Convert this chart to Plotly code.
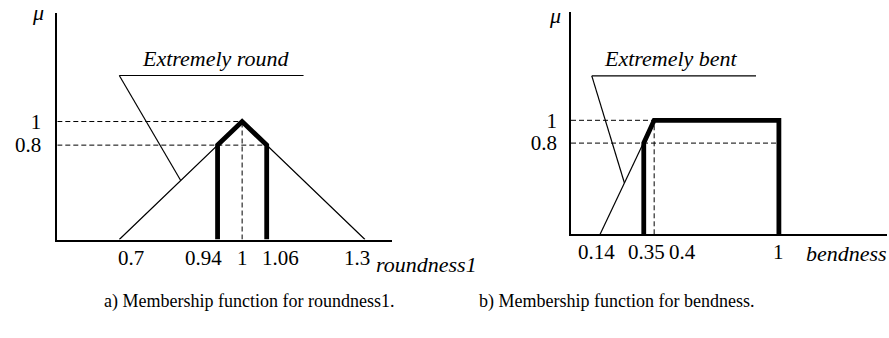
import numpy as np
import plotly.graph_objects as go

# ---- data -------------------------------------------------------------
# (a) triangular membership function "Extremely round" over roundness1
round_x = [0.7, 1.0, 1.3]
round_mu = [0.0, 1.0, 0.0]
round_cut_level = 0.8
round_cut_x = [0.94, 1.06]
round_ticks = [0.7, 0.94, 1.0, 1.06, 1.3]
round_ticktext = ["0.7", "0.94", "1", "1.06", "1.3"]

# (b) ramp membership function "Extremely bent" over bendness
bent_x = [0.14, 0.4]
bent_mu = [0.0, 1.0]
bent_cut_level = 0.8
bent_cut_x = [0.35, 1.0]
bent_ticks = [0.14, 0.35, 0.4, 1.0]
bent_ticktext = ["0.14", "0.35", "0.4", "1"]

mu_ticks = [0.8, 1.0]
mu_ticktext = ["0.8", "1"]

captions = ["a) Membership function for roundness1.",
            "b) Membership function for bendness."]

# ---- styling ----------------------------------------------------------
FONT = "Liberation Serif"
FS = 22
TFS = 21
CFS = 18
BLACK = "#000000"
XR_A = [0.5486, 1.366]
YR_A = [0.0, 1.92]
XR_B = [0.0, 1.52]
YR_B = [0.0, 1.95]

fig = go.Figure()

def add_line(x, y, xa, ya, width, dash="solid"):
    fig.add_trace(go.Scatter(x=x, y=y, mode="lines", xaxis=xa, yaxis=ya,
                             line=dict(color=BLACK, width=width, dash=dash),
                             hoverinfo="skip", showlegend=False))

DASH = "5px,3px"

# ---- panel (a) --------------------------------------------------------
peak_a = round_x[int(np.argmax(round_mu))]
add_line([XR_A[0], peak_a], [1, 1], "x", "y", 1, DASH)
add_line([XR_A[0], round_cut_x[1]], [round_cut_level] * 2, "x", "y", 1, DASH)
add_line([peak_a, peak_a], [0, 1], "x", "y", 1, DASH)
add_line(round_x, round_mu, "x", "y", 1.2)
add_line([round_cut_x[0], round_cut_x[0], peak_a, round_cut_x[1], round_cut_x[1]],
         [0, round_cut_level, 1, round_cut_level, 0], "x", "y", 4.8)

# ---- panel (b) --------------------------------------------------------
add_line([XR_B[0], bent_cut_x[1]], [1, 1], "x2", "y2", 1, DASH)
add_line([XR_B[0], bent_cut_x[1]], [bent_cut_level] * 2, "x2", "y2", 1, DASH)
add_line([bent_x[1], bent_x[1]], [0, 1], "x2", "y2", 1, DASH)
add_line(bent_x, bent_mu, "x2", "y2", 1.2)
add_line([bent_cut_x[0], bent_cut_x[0], bent_x[1], bent_cut_x[1], bent_cut_x[1]],
         [0, bent_cut_level, 1, 1, 0], "x2", "y2", 4.8)

# ---- callouts (label, underline and leader to the curve) --------------
lead_a_x = 0.85
lead_a_y = float(np.interp(lead_a_x, round_x[:2], round_mu[:2]))
lead_b_y = 0.45
lead_b_x = float(np.interp(lead_b_y, bent_mu, bent_x))

shapes = [
    dict(type="line", xref="x", yref="y", x0=0.70, x1=1.15, y0=1.39, y1=1.39,
         line=dict(color=BLACK, width=1.2)),
    dict(type="line", xref="x", yref="y", x0=0.70, x1=lead_a_x, y0=1.39, y1=lead_a_y,
         line=dict(color=BLACK, width=1.2)),
    dict(type="line", xref="x2", yref="y2", x0=0.10, x1=0.89, y0=1.39, y1=1.39,
         line=dict(color=BLACK, width=1.2)),
    dict(type="line", xref="x2", yref="y2", x0=0.10, x1=lead_b_x, y0=1.39, y1=lead_b_y,
         line=dict(color=BLACK, width=1.2)),
]

ann = []
ann.append(dict(text="<i>Extremely round</i>", xref="x", yref="y", x=0.935, y=1.39,
                yanchor="bottom", yshift=3, showarrow=False))
ann.append(dict(text="<i>Extremely bent</i>", xref="x2", yref="y2", x=0.48, y=1.39,
                yanchor="bottom", yshift=3, showarrow=False))
# axis titles
ann.append(dict(text="<i>μ</i>", xref="paper", yref="paper", x=38 / 889, y=1 - 13 / 338,
                xanchor="center", yanchor="middle", showarrow=False))
ann.append(dict(text="<i>μ</i>", xref="paper", yref="paper", x=555 / 889, y=1 - 15 / 338,
                xanchor="center", yanchor="middle", showarrow=False))
ann.append(dict(text="<i>roundness1</i>", xref="paper", yref="paper", x=374 / 889,
                y=1 - 264 / 338, xanchor="left", yanchor="middle", showarrow=False))
ann.append(dict(text="<i>bendness</i>", xref="paper", yref="paper", x=804 / 889,
                y=1 - 253 / 338, xanchor="left", yanchor="middle", showarrow=False))

# x tick labels, nudged apart where neighbouring values sit close together
def tick_labels(vals, texts, xref, yref, placement):
    for v, t in zip(vals, texts):
        anchor, sh = placement[v]
        ann.append(dict(text=t, xref=xref, yref=yref, x=v, y=0, xanchor=anchor,
                        xshift=sh, yanchor="top", yshift=-4, showarrow=False,
                        font=dict(family=FONT, size=TFS, color=BLACK)))

tick_labels(round_ticks, round_ticktext, "x", "y",
            {0.7: ("center", 12), 0.94: ("center", -14), 1.0: ("center", 0),
             1.06: ("center", 14), 1.3: ("center", -8)})
tick_labels(bent_ticks, bent_ticktext, "x2", "y2",
            {0.14: ("center", -4), 0.35: ("right", 23), 0.4: ("left", 13),
             1.0: ("center", 0)})

# captions
for cap, cx in zip(captions, [249, 616]):
    ann.append(dict(text=cap, xref="paper", yref="paper", x=cx / 889, y=1 - 301 / 338,
                    xanchor="center", yanchor="middle", showarrow=False,
                    font=dict(family=FONT, size=CFS, color=BLACK)))
for a in ann:
    a.setdefault("font", dict(family=FONT, size=FS, color=BLACK))

axis_common = dict(showline=True, linecolor=BLACK, linewidth=1.5, showgrid=False,
                   zeroline=False, ticks="", fixedrange=True, tickangle=0,
                   tickfont=dict(family=FONT, size=TFS, color=BLACK))

fig.update_layout(
    width=889, height=338,
    margin=dict(l=0, r=0, t=0, b=0),
    paper_bgcolor="white", plot_bgcolor="white",
    showlegend=False,
    shapes=shapes,
    annotations=ann,
    xaxis=dict(domain=[57.3 / 889, 392 / 889], range=XR_A, anchor="y",
               showticklabels=False, **axis_common),
    yaxis=dict(domain=[1 - 239.5 / 338, 1 - 13 / 338], range=YR_A, anchor="x",
               tickvals=mu_ticks, ticktext=mu_ticktext, ticklabelstandoff=10,
               **axis_common),
    xaxis2=dict(domain=[571 / 889, 887 / 889], range=XR_B, anchor="y2",
                showticklabels=False, **axis_common),
    yaxis2=dict(domain=[1 - 234.3 / 338, 1 - 12 / 338], range=YR_B, anchor="x2",
                tickvals=mu_ticks, ticktext=mu_ticktext, ticklabelstandoff=8,
                **axis_common),
)

fig.write_html("out.html")
